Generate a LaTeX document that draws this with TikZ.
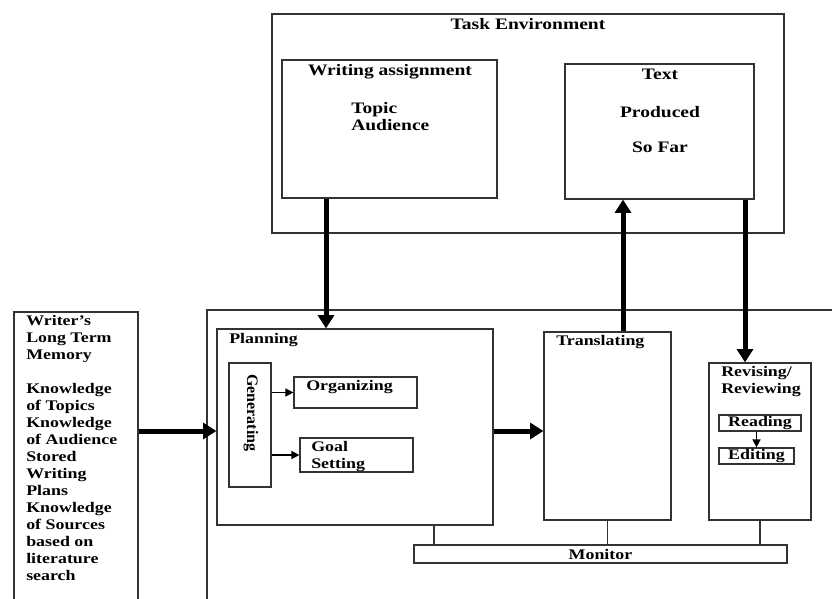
\documentclass[tikz,border=0pt]{standalone}
\usepackage{fontspec}
\setmainfont[FakeStretch=1.22]{Liberation Serif}
\newfontfamily\uprightfont{Liberation Serif}
\usetikzlibrary{positioning,arrows.meta,fit}

\begin{document}
\begin{tikzpicture}[x=0.75pt, y=-0.75pt,
  every node/.style={font=\fontsize{12}{12.75}\selectfont\bfseries, inner sep=0pt},
  lowtext/.style={font=\fontsize{11}{12.75}\selectfont\bfseries},
  box/.style={draw=black!80, line width=0.9pt, rectangle, inner sep=0pt},
  flow/.style={-{Triangle[length=10pt,width=12pt]}, line width=3.75pt},
  link/.style={-{Triangle[length=6pt,width=6pt]}, line width=1.1pt},
  tie/.style={draw=black!80, line width=0.9pt}]
\useasboundingbox (0,0) rectangle (832,599);
\node[box, fit={(272,14) (784,233)}] (task) {};
\node[below=3.5pt of task.north] (tasktitle) {Task Environment};
\node[box, fit={(282,60) (497,198)}] (asg) {};
\node[anchor=base] (asgtitle) at (390,76) {Writing assignment};
\node[anchor=base west, align=left] (asgitems) at (351,131) {Topic\\Audience};
\node[box, fit={(565,64) (754,199)}] (txt) {};
\node[anchor=base, align=center] (txtlines) at (660,153) {Text\\[15.5pt]Produced\\[14pt]So Far};
\node[box, fit={(14,312) (138,603)}] (ltm) {};
\node[lowtext, anchor=base west, align=left] (ltmtext) at (26,580) {Writer's\\Long Term\\Memory\\\mbox{}\\Knowledge\\of Topics\\Knowledge\\of Audience\\Stored\\Writing\\Plans\\Knowledge\\of Sources\\based on\\literature\\search};
\node[box, fit={(207,310) (836,603)}] (proc) {};
\node[box, fit={(217,329) (493,525)}] (plan) {};
\node[lowtext, anchor=base west] (plantitle) at (229,343) {Planning};
\node[box, fit={(229,363) (271,487)}] (gen) {};
\node[rotate=-90, font=\uprightfont\fontsize{12}{12.75}\selectfont\bfseries] (gentext) at (251,413) {Generating};
\node[box, fit={(294,377) (417,408)}] (org) {};
\node[lowtext, anchor=base west] (orgtext) at (306,390) {Organizing};
\node[box, fit={(300,438) (413,472)}] (goal) {};
\node[lowtext, anchor=base west, align=left] (goaltext) at (311,468) {Goal\\Setting};
\node[box, fit={(544,332) (671,520)}] (trans) {};
\node[lowtext, anchor=base west] (transtext) at (556,345) {Translating};
\node[box, fit={(709,363) (811,520)}] (rev) {};
\node[lowtext, anchor=base west, align=left] (revtext) at (721,393) {Revising/\\Reviewing};
\node[box, lowtext, minimum width=61.5pt, minimum height=12pt] (read) at (760,423) {Reading};
\node[box, lowtext, minimum width=56.25pt, minimum height=12pt] (edit) at (756.5,456) {Editing};
\node[box, lowtext, minimum width=279.75pt, minimum height=13.5pt] (mon) at (600.5,554) {Monitor};
\coordinate (asgout) at (326,0);
\coordinate (sent) at (623,0);
\coordinate (back) at (745,0);
\coordinate (feed) at (0,431);
\coordinate (plantap) at (434,0);
\draw[flow] (asg.south -| asgout) -- (plan.north -| asgout);
\draw[flow] (trans.north -| sent) -- (txt.south -| sent);
\draw[flow] (txt.south -| back) -- (rev.north -| back);
\draw[flow] (ltm.east |- feed) -- (plan.west |- feed);
\draw[flow] (plan.east |- feed) -- (trans.west |- feed);
\draw[link] (gen.east |- org) -- (org.west);
\draw[link] (gen.east |- goal) -- (goal.west);
\draw[link] (read.south -| edit) -- (edit.north);
\draw[tie] (plan.south -| plantap) -- (mon.north -| plantap);
\draw[tie] (trans.south) -- (trans.south |- mon.north);
\draw[tie] (rev.south) -- (rev.south |- mon.north);
\end{tikzpicture}
\end{document}
